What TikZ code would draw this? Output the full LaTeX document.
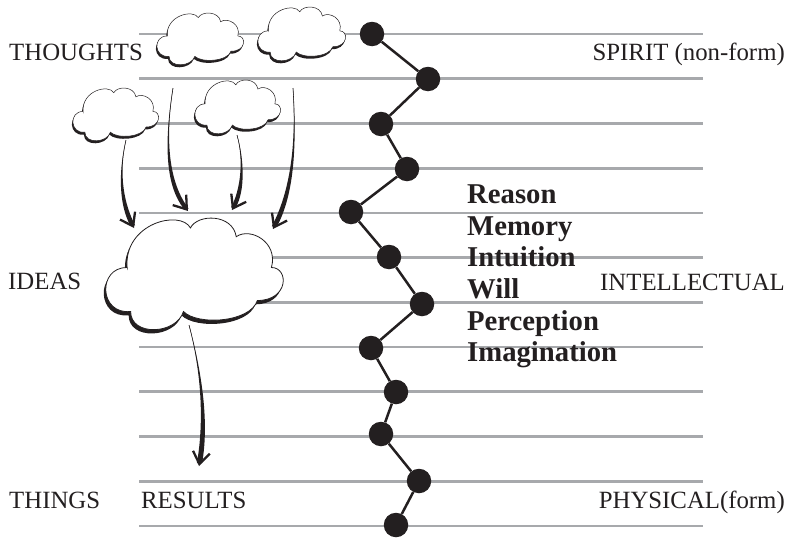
\documentclass[tikz,border=0pt]{standalone}
\usepackage{fontspec}
\setmainfont{Liberation Serif}
\usetikzlibrary{arrows.meta,calc}
\definecolor{ink}{HTML}{231F20}
\definecolor{rulegray}{HTML}{A7A9AC}
\newcommand\cloudoutline{(0.12,0.45) .. controls (0.10,0.05) and (0.42,-0.08) .. (0.48,0.09) .. controls (0.52,-0.04) and (0.72,-0.04) .. (0.74,0.17) .. controls (0.82,0.08) and (0.98,0.22) .. (0.94,0.45) .. controls (1.04,0.45) and (1.04,0.75) .. (0.86,0.75) .. controls (0.82,0.95) and (0.52,0.98) .. (0.44,0.85) .. controls (0.40,1.06) and (0.14,1.08) .. (0.14,0.85) .. controls (-0.04,0.88) and (-0.05,0.45) .. cycle}
% x, y, w, h, shadow dx, shadow dy, outline width
\newcommand\drawcloud[7]{%
  \begin{scope}[shift={({#1+(#5)},{#2+(#6)})},xscale=#3,yscale=#4]
    \fill[ink] \cloudoutline;
  \end{scope}
  \begin{scope}[shift={(#1,#2)},xscale=#3,yscale=#4]
    \filldraw[fill=white,draw=ink,line width=#7] \cloudoutline;
  \end{scope}}
% start, control1, control2, end, half width
\newcommand\brusharrow[5]{%
  \coordinate (bE) at ($(#4)!3pt!#3$);
  \fill[ink] ($(#1)+(-0.3,0)$) .. controls #2 and ($#3+(-#5,0)$) .. ($(bE)+(-#5,0)$) -- ($(bE)+(#5,0)$) .. controls ($#3+(#5,0)$) and #2 .. ($(#1)+(0.3,0)$) -- cycle;
  \draw[ink,line width=0.3pt,-{Straight Barb[length=12pt,width=17pt,line width=2.3pt]}] (#1) .. controls #2 and #3 .. (#4);}
\tikzset{
  ruleline/.style={rulegray,line width=2.8pt},
  dot/.style={circle,fill=ink,minimum size=24.5pt,inner sep=0pt},
  link/.style={ink,line width=2.5pt},
  label/.style={text=ink,inner sep=0pt,font=\fontsize{24.8}{28}\selectfont},
  faculty/.style={text=ink,inner sep=0pt,anchor=base west,font=\fontsize{28.7}{32}\selectfont\bfseries}
}
\begin{document}
\begin{tikzpicture}[x=1pt,y=-1pt]
\useasboundingbox (0,0) rectangle (798,538);
% horizontal rules
\foreach \i in {0,...,11}{
  \draw[ruleline] (139,{34+44.727*\i}) -- (703,{34+44.727*\i});
}
% clouds
\drawcloud{157}{13}{86}{51}{-1}{2.5}{0.5pt}
\drawcloud{258}{7}{87}{53}{-1}{2.5}{0.5pt}
\drawcloud{73}{88}{85}{52}{-1}{2.5}{0.5pt}
\drawcloud{195}{80}{85}{53}{-1}{2.5}{0.5pt}
\drawcloud{106}{218}{176}{110}{-2}{3.8}{0.8pt}
% arrows
\coordinate (a1s) at (126,140); \coordinate (a1e) at (134,228);
\coordinate (a2s) at (173,88);  \coordinate (a2e) at (188,211);
\coordinate (a3s) at (237,135); \coordinate (a3e) at (232,210);
\coordinate (a4s) at (293,88);  \coordinate (a4e) at (273,229);
\coordinate (a5s) at (189,325); \coordinate (a5e) at (199,466);
\brusharrow{a1s}{(118,175)}{(122,205)}{a1e}{2.5}
\brusharrow{a2s}{(164,145)}{(168,185)}{a2e}{2.5}
\brusharrow{a3s}{(244,160)}{(243,190)}{a3e}{2.4}
\brusharrow{a4s}{(297,150)}{(291,195)}{a4e}{2.6}
\brusharrow{a5s}{(201,370)}{(207,420)}{a5e}{2.6}
% dots
\node[dot] (d1) at (372,34) {};
\node[dot] (d2) at (428,79) {};
\node[dot] (d3) at (381,124) {};
\node[dot] (d4) at (407,169) {};
\node[dot] (d5) at (351,212) {};
\node[dot] (d6) at (389,257) {};
\node[dot] (d7) at (422,304) {};
\node[dot] (d8) at (371,348) {};
\node[dot] (d9) at (396,392) {};
\node[dot] (d10) at (381,434) {};
\node[dot] (d11) at (419,481) {};
\node[dot] (d12) at (396,525) {};
\draw[link] (d1) -- (d2) -- (d3) -- (d4) -- (d5) -- (d6) -- (d7) -- (d8) -- (d9) -- (d10) -- (d11) -- (d12);
% labels
\node[label,anchor=base west] (thoughts) at (9,60) {THOUGHTS};
\node[label,anchor=base west] (ideas) at (8,289) {IDEAS};
\node[label,anchor=base west] (things) at (9,508) {THINGS};
\node[label,anchor=base west] (results) at (141,508) {RESULTS};
\node[label,anchor=base east] (spirit) at (785,60) {SPIRIT (non-form)};
\node[label,anchor=base east] (intel) at (785,290) {INTELLECTUAL};
\node[label,anchor=base east] (phys) at (785,508) {PHYSICAL(form)};
\node[faculty] (reason) at (467,203) {Reason};
\node[faculty] (memory) at (467,235) {Memory};
\node[faculty] (intuition) at (467,266.5) {Intuition};
\node[faculty] (will) at (467,298) {Will};
\node[faculty] (perception) at (467,330) {Perception};
\node[faculty] (imagination) at (467,361.5) {Imagination};
\end{tikzpicture}
\end{document}
